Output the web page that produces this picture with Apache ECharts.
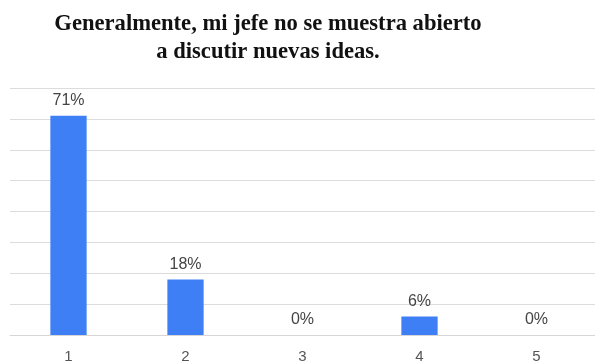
<!DOCTYPE html>
<html>
<head>
<meta charset="utf-8">
<script src="https://cdn.jsdelivr.net/npm/echarts@6/dist/echarts.min.js"></script>
<style>
  html, body { margin: 0; padding: 0; background: #fff; }
  #chart { width: 595px; height: 364px; }
</style>
</head>
<body>
<div id="chart"></div>
<script>
// Survey answers on a 1–5 scale and the share of respondents for each
const categories = ['1', '2', '3', '4', '5'];
const shares = [71, 18, 0, 6, 0];
const titleLines = ['Generalmente, mi jefe no se muestra abierto', 'a discutir nuevas ideas.'];

const chart = echarts.init(document.getElementById('chart'));
chart.setOption({
  animation: false,
  backgroundColor: '#ffffff',
  title: {
    text: titleLines.join('\n'),
    left: 263,
    textAlign: 'center',
    top: 5,
    textStyle: {
      fontFamily: 'Liberation Serif',
      fontWeight: 'bold',
      fontSize: 22.6,
      lineHeight: 28,
      color: '#111111'
    }
  },
  grid: { left: 10, right: -7, top: 88, bottom: 27, containLabel: false },
  xAxis: {
    type: 'category',
    data: categories,
    axisTick: { show: false },
    axisLine: { lineStyle: { color: '#d6d6d6', width: 1 } },
    axisLabel: {
      color: '#555555',
      fontFamily: 'Liberation Sans',
      fontSize: 15,
      margin: 14
    }
  },
  yAxis: {
    type: 'value',
    min: 0,
    max: 80,
    interval: 10,
    axisLabel: { show: false },
    axisLine: { show: false },
    axisTick: { show: false },
    splitLine: { lineStyle: { color: '#dcdcdc', width: 1 } }
  },
  series: [{
    type: 'bar',
    data: shares,
    barWidth: '31%',
    itemStyle: { color: '#3f7ff6' },
    label: {
      show: true,
      position: 'top',
      distance: 7,
      formatter: '{c}%',
      color: '#444444',
      fontFamily: 'Liberation Sans',
      fontSize: 16
    }
  }]
});
</script>
</body>
</html>
